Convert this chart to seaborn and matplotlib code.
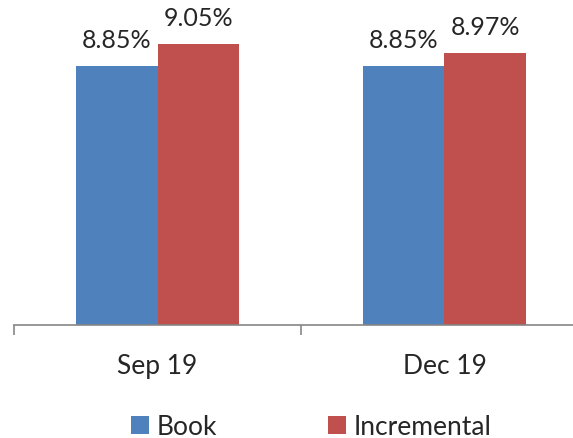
import matplotlib.pyplot as plt
import seaborn as sns
import pandas as pd

# Data
periods = ['Sep 19', 'Dec 19']
series_names = ['Book', 'Incremental']
book = [8.85, 8.85]
incremental = [9.05, 8.97]

df = pd.DataFrame({
    'period': periods * 2,
    'series': [series_names[0]] * len(periods) + [series_names[1]] * len(periods),
    'value': book + incremental,
})

sns.set_style('white')
plt.rcParams['font.family'] = ['Lato', 'DejaVu Sans']

# Prepare Plot
fig = plt.figure(figsize=(5.73, 4.38), dpi=100)
ax = fig.add_axes([14 / 573, 113 / 438, 574 / 573, 325 / 438])

sns.barplot(data=df, x='period', y='value', hue='series',
            palette=['#4F81BD', '#C0504D'], saturation=1,
            width=0.568, edgecolor='none', ax=ax)

ax.set_xlim(-0.5, 1.5)
ax.set_ylim(6.5, 9.45)
ax.set_xlabel('')
ax.set_ylabel('')
ax.set_yticks([])

# spines: only the bottom axis line
for s in ['top', 'right', 'left']:
    ax.spines[s].set_visible(False)
ax.spines['bottom'].set_color('#868686')
ax.spines['bottom'].set_linewidth(1.2)

# tick marks at category boundaries, labels in the middle
ax.set_xticks([-0.5, 0.5, 1.5])
ax.set_xticklabels([])
ax.tick_params(axis='x', which='major', length=7, width=1.2, color='#868686',
               direction='out', bottom=True)
ax.set_xticks([0, 1], minor=True)
ax.set_xticklabels(periods, minor=True)
ax.tick_params(axis='x', which='minor', length=0, pad=21, labelsize=19)

# value labels
for cont in ax.containers:
    ax.bar_label(cont, labels=[f'{v:.2f}%' for v in cont.datavalues],
                 padding=10, fontsize=18)

# legend at the bottom
handles, labels = ax.get_legend_handles_labels()
ax.get_legend().remove()
fig.legend(handles, labels, loc='center', bbox_to_anchor=(0.543, 0.025),
           ncol=2, frameon=False, fontsize=19, handlelength=0.68,
           handleheight=0.68, handletextpad=0.3, columnspacing=4.2)

plt.savefig('out.png', dpi=100)
